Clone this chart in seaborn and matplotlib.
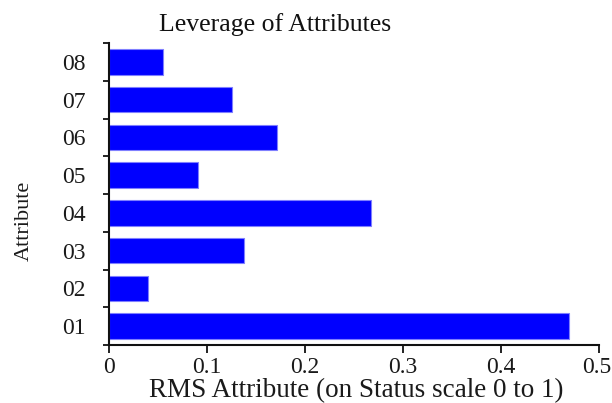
import matplotlib
matplotlib.use("Agg")
import matplotlib.pyplot as plt
from matplotlib.ticker import FixedLocator
from matplotlib.transforms import ScaledTranslation
import seaborn as sns
import pandas as pd

categories = ["08", "07", "06", "05", "04", "03", "02", "01"]
values = [0.055, 0.126, 0.171, 0.091, 0.267, 0.138, 0.040, 0.469]
x_ticks = [0, 0.1, 0.2, 0.3, 0.4, 0.5]
x_tick_labels = ["0", "0.1", "0.2", "0.3", "0.4", "0.5"]

sns.set_theme(style="ticks")
plt.rcParams["font.family"] = ["Liberation Serif", "DejaVu Serif"]

df = pd.DataFrame({"Attribute": categories, "RMS": values})

W, H = 612, 403
fig = plt.figure(figsize=(W / 100, H / 100), dpi=100)
ax = fig.add_axes([109 / W, 1 - 345 / H, (599 - 109) / W, (345 - 43) / H])

sns.barplot(data=df, x="RMS", y="Attribute", order=categories, orient="h",
            color="#0000ff", saturation=1, width=0.68,
            edgecolor="#7f7fff", linewidth=0.8, ax=ax)

ax.set_xlim(0, 0.5)
ax.set_ylim(len(categories) - 0.5, -0.5)
ax.set_xticks(x_ticks)
ax.set_xticklabels(x_tick_labels)
ax.yaxis.set_minor_locator(FixedLocator([k - 0.5 for k in range(len(categories) + 1)]))

for s in ["top", "right"]:
    ax.spines[s].set_visible(False)
for s in ["left", "bottom"]:
    ax.spines[s].set_linewidth(1.5)
    ax.spines[s].set_color("#111111")

ax.tick_params(axis="x", which="major", direction="out", length=5.5, width=1.3,
               color="#111111", labelsize=17, pad=3.2, labelcolor="#1a1a1a")
ax.tick_params(axis="y", which="major", length=0, labelsize=17, pad=16.5,
               labelcolor="#1a1a1a")
ax.tick_params(axis="y", which="minor", direction="out", length=4.5, width=1.3,
               color="#111111")

# keep the last x tick label inside the canvas
last = ax.get_xticklabels()[-1]
last.set_transform(last.get_transform() + ScaledTranslation(-2.5 / 100, 0, fig.dpi_scale_trans))

ax.set_xlabel("")
ax.set_ylabel("")

fig.text(275 / W, 1 - 31 / H, "Leverage of Attributes", ha="center",
         va="baseline", fontsize=18.5, color="#111111")
fig.text(356 / W, 1 - 397 / H, "RMS Attribute (on Status scale 0 to 1)",
         ha="center", va="baseline", fontsize=19.5, color="#1a1a1a")
fig.text(24 / W, 1 - 221 / H, "Attribute", ha="center", va="center",
         rotation=90, fontsize=16, color="#1a1a1a")

fig.savefig("out.png", dpi=100, facecolor="white")
